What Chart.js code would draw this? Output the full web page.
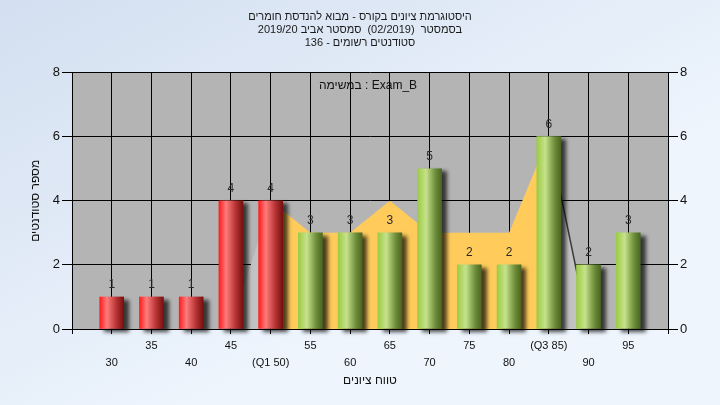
<!DOCTYPE html>
<html>
<head>
<meta charset="utf-8">
<script src="https://cdn.jsdelivr.net/npm/chart.js@4/dist/chart.umd.min.js"></script>
<style>
  html, body { margin: 0; padding: 0; }
  #wrap { width: 720px; height: 405px; }
</style>
</head>
<body>
<div id="wrap"><canvas id="myChart" width="720" height="405"></canvas></div>
<script>
// histogram data
const scores = [30, 35, 40, 45, 50, 55, 60, 65, 70, 75, 80, 85, 90, 95]
const counts = [1, 1, 1, 4, 4, 3, 3, 3, 5, 2, 2, 6, 2, 3]
const xTickLabels = ['30', '35', '40', '45', '(Q1 50)', '55', '60', '65', '70', '75', '80', '(Q3 85)', '90', '95']
const yTicks = [0, 2, 4, 6, 8]

// background area (yellow between quartiles)
const areaScores = [45, 50, 55, 60, 65, 70, 75, 80, 85, 90]
const areaValues = [0, 4, 3, 3, 4, 3, 3, 3, 6, 0]

const q1 = 50
const q3 = 85

const titleLines = [
    'היסטוגרמת ציונים בקורס - מבוא להנדסת חומרים',
    'בסמסטר  (02/2019)  סמסטר אביב 2019/20',
    'סטודנטים רשומים - 136'
]
const taskText = 'במשימה : Exam_B'
const xTitle = 'טווח ציונים'
const yTitle = 'מספר סטודנטים'

const font = "'Liberation Sans', Arial, sans-serif"
const barWidth = 24

function barGradient(c) {
    const chart = c.chart
    const x = chart.scales.x
    if (!x || !c.raw) return '#888'
    const px = x.getPixelForValue(c.raw.x)
    if (!isFinite(px)) return '#888'
    const g = chart.ctx.createLinearGradient(px - barWidth / 2, 0, px + barWidth / 2, 0)
    if (c.raw.x <= q1) {
        g.addColorStop(0, '#ff1c1c')
        g.addColorStop(0.3, '#ff7c7c')
        g.addColorStop(0.7, '#b63232')
        g.addColorStop(1, '#761010')
    } else {
        g.addColorStop(0, '#9ccb44')
        g.addColorStop(0.35, '#c6e28c')
        g.addColorStop(0.75, '#6c8c38')
        g.addColorStop(1, '#4b6622')
    }
    return g
}

const backdrop = {
    id: 'backdrop',
    beforeDraw(chart) {
        const { ctx, chartArea: a, width, height } = chart
        ctx.save()
        const g = ctx.createLinearGradient(0, 0, width * 0.3, height)
        g.addColorStop(0, '#d3dff0')
        g.addColorStop(1, '#eef5fd')
        ctx.fillStyle = g
        ctx.fillRect(0, 0, width, height)
        ctx.fillStyle = '#b4b4b4'
        ctx.fillRect(a.left, a.top, a.right - a.left, a.bottom - a.top)
        ctx.restore()
    }
}

const barShadow = {
    id: 'barShadow',
    beforeDatasetDraw(chart, args) {
        if (args.index !== 0) return
        const ctx = chart.ctx
        ctx.save()
        ctx.shadowColor = 'rgba(0,0,0,0.7)'
        ctx.shadowOffsetX = 5
        ctx.shadowOffsetY = 3
        ctx.shadowBlur = 4
    },
    afterDatasetDraw(chart, args) {
        if (args.index !== 0) return
        chart.ctx.restore()
    }
}

const labels = {
    id: 'labels',
    afterDatasetsDraw(chart) {
        const { ctx, chartArea: a } = chart
        const meta = chart.getDatasetMeta(0)
        ctx.save()
        ctx.font = '12px ' + font
        ctx.fillStyle = '#2a2a2a'
        ctx.textAlign = 'center'
        ctx.textBaseline = 'bottom'
        meta.data.forEach((el, i) => {
            ctx.fillText(String(counts[i]), el.x, el.y - 6)
        })
        ctx.textBaseline = 'middle'
        ctx.fillStyle = '#111'
        ctx.fillText(taskText, (a.left + a.right) / 2 - 2, a.top + 13)
        ctx.restore()
    }
}

const ctx = document.getElementById('myChart')

const chart = new Chart(ctx, {
    type: 'bar',
    data: {
        datasets: [{
            type: 'bar',
            data: scores.map((s, i) => ({ x: s, y: counts[i] })),
            backgroundColor: barGradient,
            barThickness: barWidth,
            borderWidth: 0,
            clip: false,
            order: 1
        }, {
            type: 'line',
            data: areaScores.map((s, i) => ({ x: s, y: areaValues[i] })),
            fill: 'origin',
            pointRadius: 0,
            borderWidth: 1.5,
            tension: 0,
            backgroundColor: '#ffcb5b',
            borderColor: 'rgba(0,0,0,0)',
            segment: {
                backgroundColor: c => (c.p0.parsed.x < q1 || c.p0.parsed.x >= q3) ? '#c2c2c2' : '#ffcb5b',
                borderColor: c => c.p0.parsed.x >= q3 ? '#3a3a3a' : 'rgba(0,0,0,0)'
            },
            order: 2
        }]
    },
    options: {
        responsive: false,
        animation: false,
        layout: { padding: 0 },
        plugins: {
            legend: { display: false },
            tooltip: { enabled: false },
            title: {
                display: true,
                text: titleLines,
                color: '#1a1a1a',
                font: { family: font, size: 11, weight: 'normal', lineHeight: 1.2 },
                padding: { top: 10, bottom: 23 }
            }
        },
        scales: {
            x: {
                type: 'linear',
                min: 25,
                max: 100,
                offset: false,
                grid: { color: '#000', offset: false, tickLength: 5, tickColor: '#000' },
                border: { color: '#000' },
                ticks: {
                    stepSize: 5,
                    autoSkip: false,
                    maxRotation: 0,
                    padding: 3,
                    color: '#111',
                    font: { family: font, size: 11, lineHeight: 1.6 },
                    callback: v => {
                        const i = scores.indexOf(v)
                        if (i < 0) return ''
                        return i % 2 === 0 ? ['', xTickLabels[i]] : [xTickLabels[i]]
                    }
                },
                title: {
                    display: true,
                    text: xTitle,
                    color: '#111',
                    font: { family: font, size: 12 },
                    padding: { top: 0, bottom: 17 }
                },
                afterFit: s => { s.height = 76 }
            },
            y: {
                min: 0,
                max: 8,
                position: 'left',
                grid: { color: '#000', tickLength: 10, tickColor: '#000' },
                border: { color: '#000' },
                ticks: {
                    stepSize: 2,
                    padding: 2,
                    color: '#111',
                    font: { family: font, size: 13 },
                    callback: v => yTicks.includes(v) ? String(v) : ''
                },
                title: {
                    display: true,
                    text: yTitle,
                    color: '#111',
                    font: { family: font, size: 12 },
                    padding: { top: 28, bottom: 0 }
                },
                afterFit: s => { s.width = 72 }
            },
            y2: {
                min: 0,
                max: 8,
                position: 'right',
                grid: { drawOnChartArea: false, tickLength: 10, tickColor: '#000' },
                border: { color: '#000' },
                ticks: {
                    stepSize: 2,
                    padding: 2,
                    color: '#111',
                    font: { family: font, size: 13 },
                    callback: v => yTicks.includes(v) ? String(v) : ''
                },
                afterFit: s => { s.width = 52 }
            }
        }
    },
    plugins: [backdrop, barShadow, labels]
})
chart.update()
</script>
</body>
</html>
